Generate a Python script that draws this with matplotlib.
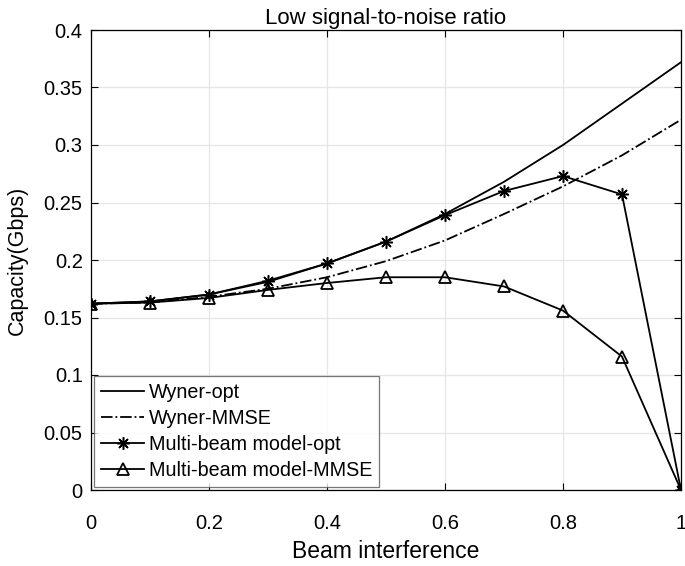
import matplotlib
matplotlib.use("Agg")
import matplotlib.pyplot as plt
import numpy as np

plt.rcParams['font.family'] = ['Liberation Sans', 'DejaVu Sans']

x = [0, 0.1, 0.2, 0.3, 0.4, 0.5, 0.6, 0.7, 0.8, 0.9, 1.0]
wyner_opt = [0.162, 0.164, 0.170, 0.181, 0.197, 0.216, 0.240, 0.268, 0.300, 0.336, 0.372]
wyner_mmse = [0.162, 0.163, 0.168, 0.175, 0.185, 0.199, 0.217, 0.240, 0.264, 0.291, 0.322]
mb_opt = [0.162, 0.164, 0.170, 0.182, 0.197, 0.216, 0.239, 0.260, 0.273, 0.257, 0.0]
mb_mmse = [0.162, 0.163, 0.167, 0.174, 0.180, 0.185, 0.185, 0.177, 0.156, 0.116, 0.0]

labels = ['Wyner-opt', 'Wyner-MMSE', 'Multi-beam model-opt', 'Multi-beam model-MMSE']
xtick_labels = ['0', '0.2', '0.4', '0.6', '0.8', '1']
ytick_labels = ['0', '0.05', '0.1', '0.15', '0.2', '0.25', '0.3', '0.35', '0.4']

fig = plt.figure(figsize=(6.85, 5.66), dpi=100)
ax = fig.add_axes([91/685, 1-490/566, 590/685, 460/566])

ax.plot(x, wyner_opt, '-', color='k', lw=1.3, label=labels[0])
ax.plot(x, wyner_mmse, '-.', color='k', lw=1.3, label=labels[1])
ax.plot(x, mb_opt, '-', color='k', lw=1.3, marker=(8, 2, 0), markersize=9,
        markeredgewidth=1.1, label=labels[2])
ax.plot(x, mb_mmse, '-', color='k', lw=1.3, marker='^', markersize=9,
        markerfacecolor='none', markeredgewidth=1.3, label=labels[3])

ax.set_xlim(0, 1)
ax.set_ylim(0, 0.4)
ax.set_xticks(np.arange(0, 1.01, 0.2))
ax.set_xticklabels(xtick_labels)
ax.set_yticks(np.arange(0, 0.401, 0.05))
ax.set_yticklabels(ytick_labels)
ax.grid(True, color='#e6e6e6', lw=0.9)
ax.set_axisbelow(True)
ax.tick_params(direction='in', top=True, right=True, labelsize=14.5, length=5, width=0.8)
ax.tick_params(axis='x', pad=17)
ax.tick_params(axis='y', pad=6)
for s in ax.spines.values():
    s.set_linewidth(0.9)

ax.set_xlabel('Beam interference', fontsize=16.5, labelpad=5)
ax.set_ylabel('Capacity(Gbps)', fontsize=15.5, labelpad=11)
ax.set_title('Low signal-to-noise ratio', fontsize=16, pad=4)

leg = ax.legend(loc='lower left', fontsize=14.2, frameon=True, fancybox=False,
                edgecolor='#555555', borderpad=0.35, labelspacing=0.36,
                handlelength=2.2, handletextpad=0.25, borderaxespad=0.15)
leg.get_frame().set_linewidth(0.9)

fig.savefig('out.png', dpi=100)
